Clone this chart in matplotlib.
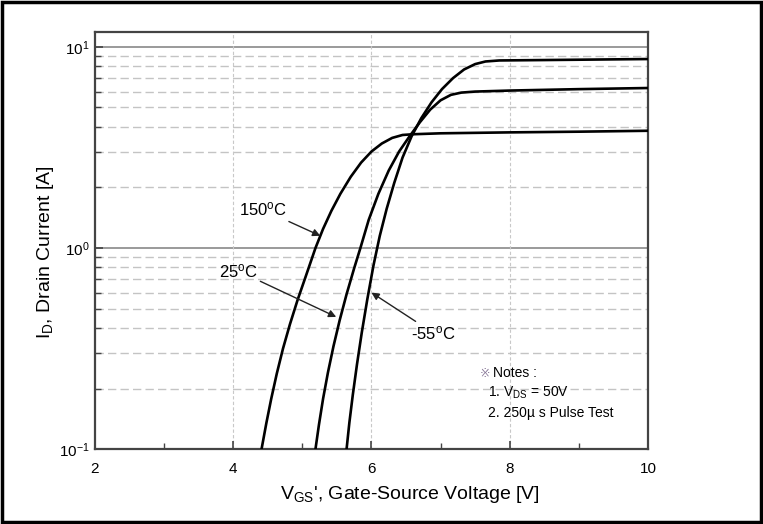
import numpy as np
import matplotlib
matplotlib.use("Agg")
from matplotlib import pyplot as plt
from matplotlib.patches import Rectangle
from matplotlib.ticker import FixedLocator, NullFormatter

# transfer characteristics (VGS [V], ID [A])
vgs_150 = [4.41, 4.48, 4.55, 4.63, 4.72, 4.82, 4.93, 5.05, 5.19, 5.30, 5.42, 5.55, 5.70,
           5.85, 6.00, 6.15, 6.30, 6.45, 6.60, 7.00, 8.00, 9.00, 10.0]
id_150 = [0.100, 0.135, 0.178, 0.237, 0.316, 0.417, 0.550, 0.724, 1.00, 1.245, 1.53, 1.86, 2.26,
          2.66, 3.02, 3.31, 3.53, 3.65, 3.68, 3.72, 3.76, 3.79, 3.83]

vgs_25 = [5.19, 5.24, 5.30, 5.37, 5.45, 5.54, 5.64, 5.75, 5.84, 5.96, 6.10, 6.25, 6.40,
          6.55, 6.70, 6.85, 7.00, 7.15, 7.30, 7.50, 8.00, 9.00, 10.0]
id_25 = [0.100, 0.132, 0.178, 0.240, 0.324, 0.437, 0.589, 0.794, 1.00, 1.38, 1.86, 2.43, 3.02,
         3.59, 4.22, 4.88, 5.43, 5.78, 5.93, 6.00, 6.07, 6.17, 6.25]

vgs_m55 = [5.64, 5.68, 5.73, 5.79, 5.86, 5.94, 6.03, 6.12, 6.22, 6.33, 6.45, 6.58, 6.72,
           6.87, 7.02, 7.18, 7.34, 7.50, 7.65, 7.85, 8.50, 10.0]
id_m55 = [0.100, 0.135, 0.186, 0.263, 0.380, 0.556, 0.822, 1.148, 1.567, 2.11, 2.82, 3.59, 4.42,
          5.31, 6.17, 7.00, 7.73, 8.22, 8.47, 8.57, 8.61, 8.71]

x_ticks = [2, 4, 6, 8, 10]
y_ticks = [0.1, 1, 10]
y_labels = ['10$^{-1}$', '10$^{0}$', '10$^{1}$']

plt.rcParams['font.family'] = ['Liberation Sans', 'DejaVu Sans']
plt.rcParams['mathtext.fontset'] = 'custom'
plt.rcParams['mathtext.rm'] = 'Liberation Sans'
plt.rcParams['mathtext.it'] = 'Liberation Sans'

fig = plt.figure(figsize=(7.63, 5.24), dpi=100)
ax = fig.add_axes([0.1245, 0.1431, 0.7247, 0.7958])

for v, i in [(vgs_150, id_150), (vgs_25, id_25), (vgs_m55, id_m55)]:
    ax.plot(v, i, color='black', lw=1.9, solid_joinstyle='round', solid_capstyle='round', zorder=3)

ax.set_yscale('log')
ax.set_xlim(2, 10)
ax.set_ylim(0.1, 11.87)

ax.set_xticks(x_ticks)
ax.set_xticklabels([str(t) for t in x_ticks])
ax.xaxis.set_minor_locator(FixedLocator([3, 5, 7, 9]))
ax.set_yticks(y_ticks)
ax.set_yticklabels(y_labels)
minors = [m * d for d in (0.1, 1) for m in range(2, 10)]
ax.yaxis.set_minor_locator(FixedLocator(minors))
ax.yaxis.set_minor_formatter(NullFormatter())

ax.tick_params(which='both', direction='in', color='#444444', labelsize=11)
ax.tick_params(which='major', length=6, width=1.2)
ax.tick_params(which='minor', length=4, width=1.0)
ax.tick_params(axis='x', which='both', pad=9)
ax.tick_params(axis='y', which='both', pad=4)

# grid
for y in [1, 10]:
    ax.axhline(y, color='#9a9a9a', lw=1.4, zorder=1)
for y in minors:
    ax.axhline(y, color='#c4c4c4', lw=1.0, ls=(0, (6, 3)), zorder=1)
for x in [4, 6, 8]:
    ax.axvline(x, color='#c8c8c8', lw=0.8, ls=(0, (3, 2)), zorder=1)

for s in ax.spines.values():
    s.set_color('#444444')
    s.set_linewidth(1.6)

ax.set_xlabel("V$_{GS}$', Gate-Source Voltage [V]", fontsize=14)
ax.xaxis.set_label_coords(0.57, -0.085)
ax.set_ylabel('I$_D$, Drain Current [A]', fontsize=14)
ax.yaxis.set_label_coords(-0.07, 0.472)

arrow = dict(arrowstyle='-|>', color='#222222', lw=1.0, mutation_scale=11, shrinkA=0, shrinkB=0)
ax.annotate('150$^{\\rm o}$C', xy=(5.26, 1.15), xytext=(4.43, 1.55), fontsize=12,
            ha='center', va='center', arrowprops=arrow)
ax.annotate('25$^{\\rm o}$C', xy=(5.49, 0.454), xytext=(4.07, 0.77), fontsize=12,
            ha='center', va='center', arrowprops=arrow)
ax.annotate('-55$^{\\rm o}$C', xy=(6.0, 0.60), xytext=(6.90, 0.377), fontsize=12,
            ha='center', va='center', arrowprops=arrow)

ax.text(0.696, 0.182, '\u203b', transform=ax.transAxes, fontsize=9, color='#8a7a9a',
        va='center', family=['DejaVu Sans', 'Noto Sans CJK SC'])
ax.text(0.720, 0.182, 'Notes :', transform=ax.transAxes, fontsize=10, va='center')
ax.text(0.711, 0.134, '1. V$_{DS}$ = 50V', transform=ax.transAxes, fontsize=10, va='center')
ax.text(0.711, 0.086, '2. 250\u00b5 s Pulse Test', transform=ax.transAxes, fontsize=10, va='center')

fig.patches.append(Rectangle((0.003, 0.004), 0.994, 0.992, transform=fig.transFigure,
                             fill=False, edgecolor='black', lw=2.5))

fig.savefig('out.png', dpi=100)
